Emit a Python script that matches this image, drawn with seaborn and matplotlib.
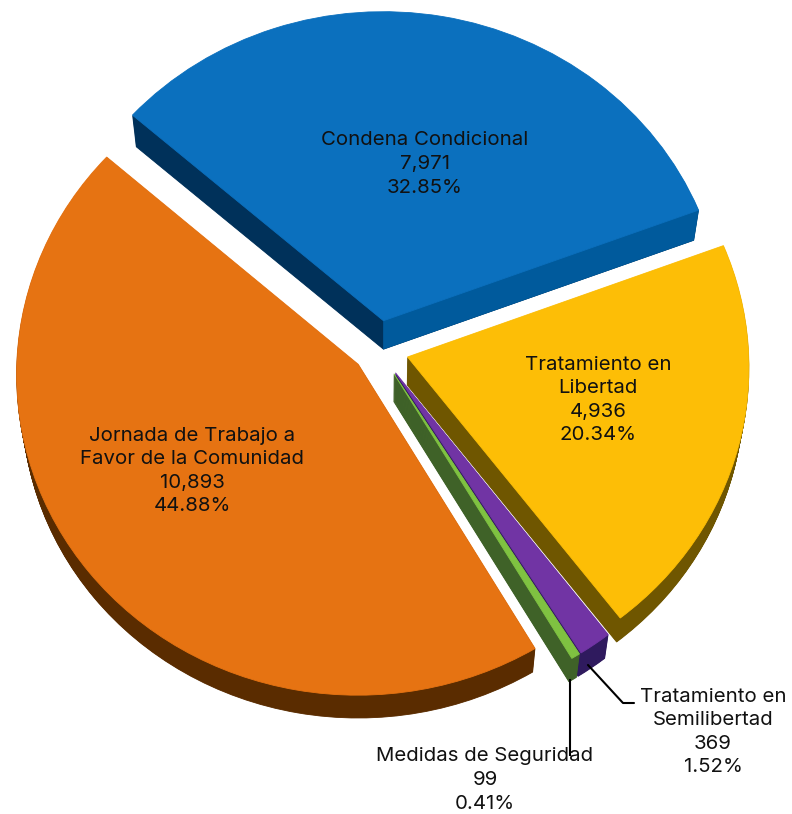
import numpy as np
import matplotlib
matplotlib.use("Agg")
import matplotlib.pyplot as plt
from matplotlib.transforms import Transform
import seaborn as sns

categories = ["Condena Condicional", "Tratamiento en\nLibertad", "Tratamiento en\nSemilibertad",
              "Medidas de Seguridad", "Jornada de Trabajo a\nFavor de la Comunidad"]
values = [7971, 4936, 369, 99, 10893]
percents = ["32.85%", "20.34%", "1.52%", "0.41%", "44.88%"]
explode = [0.09, 0.09, 0.09, 0.09, 0.075]

top_colors = ["#0B70BE", "#FDBE06", "#7134A4", "#7FC241", "#E67312"]
side_colors = ["#00315A", "#6F5600", "#2F1A5E", "#3F6228", "#5A2C00"]
blue_right_face = "#005A9C"
label_pos = [(425, 164), (598, 400), (713, 732), (485, 780), (192, 471)]

sns.set_theme(style="white")
plt.rcParams["font.family"] = ["Inter", "DejaVu Sans"]

CX, CY, RX, RY, K, DEPTH, SHRINK = 378, 349, 341, 320, 0.03, 28, 0.015


def project(xy, dz):
    xy = np.atleast_2d(xy)
    w = 1 + K * xy[:, 1]
    s = 1 - SHRINK * dz
    return np.column_stack([CX + RX * s * xy[:, 0] / w,
                            CY - RY * s * xy[:, 1] / w + DEPTH * dz])


class Persp(Transform):
    input_dims = output_dims = 2
    is_separable = False

    def __init__(self, dz=0.0):
        super().__init__()
        self.dz = dz

    def transform_non_affine(self, values):
        return project(values, self.dz)


fig = plt.figure(figsize=(7.92, 8.14), dpi=100, facecolor="white")
ax = fig.add_axes([0, 0, 1, 1])

n_layers = 30
for i, (top, side) in enumerate(zip(top_colors, side_colors)):
    zbase = 2 + i * 3
    for layer in range(n_layers, -1, -1):
        dz = layer / n_layers
        wedges, _ = ax.pie(values, explode=explode, startangle=138.8, counterclock=False,
                           radius=1, colors=top_colors)
        for j, w in enumerate(wedges):
            if j != i:
                w.remove()
                continue
            w.set_transform(Persp(dz) + ax.transData)
            w.set_clip_on(False)
            w.set_zorder(zbase + (1 if layer == 0 else 0))
            col = top if layer == 0 else side
            w.set_facecolor(col)
            w.set_edgecolor(col)
            w.set_linewidth(0.6)
            if i == 0:
                wedge0 = w
    if i == 0:
        # Lit right-hand cut face of the blue slice, from the wedge's own geometry
        a = np.deg2rad(wedge0.theta1)
        apex = np.array(wedge0.center)
        corner = apex + wedge0.r * np.array([np.cos(a), np.sin(a)])
        quad = np.vstack([project(apex, 0), project(corner, 0), project(corner, 1), project(apex, 1)])
        ax.fill(quad[:, 0], quad[:, 1], color=blue_right_face, lw=0.5, zorder=zbase + 0.5, clip_on=False)

ax.set_aspect("auto")
ax.set_xlim(0, 792)
ax.set_ylim(814, 0)
ax.axis("off")

ax.plot([570, 570], [679, 756], color="black", lw=1.5, zorder=30, solid_capstyle="butt")
ax.plot([588, 623, 634], [665, 703, 703], color="black", lw=1.5, zorder=30)

for cat, v, p, (x, y) in zip(categories, values, percents, label_pos):
    ax.text(x, y, f"{cat}\n{v:,}\n{p}", ha="center", va="center", fontsize=14.7,
            color="#111111", linespacing=1.4, zorder=40, multialignment="center")

fig.savefig("out.png", dpi=100, facecolor="white")
